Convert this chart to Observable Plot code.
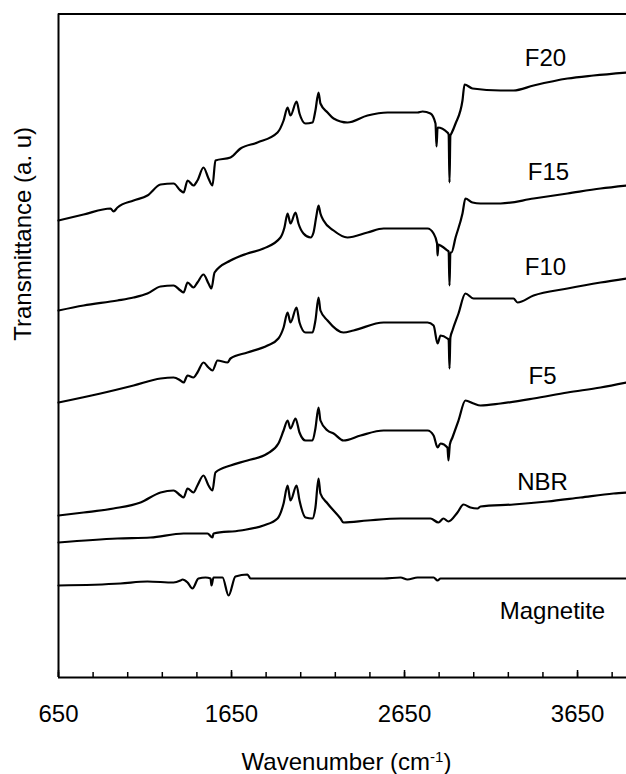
<!DOCTYPE html>
<html>
<head>
<meta charset="utf-8">
<script src="https://cdn.jsdelivr.net/npm/d3@7"></script>
<script src="https://cdn.jsdelivr.net/npm/@observablehq/plot@0.6"></script>
<style>
  html, body { margin: 0; padding: 0; background: #fff; }
  #chart svg { display: block; }
</style>
</head>
<body>
<div id="chart"></div>
<script>
// ---- Data (wavenumber in cm^-1, transmittance in arbitrary units, curves offset) ----
const seriesNames = ["F20", "F15", "F10", "F5", "NBR", "Magnetite"];

const f20Wn = [650, 795, 951, 968, 991, 1084, 1164, 1240, 1315, 1355, 1373, 1396, 1430, 1453, 1488, 1517, 1540, 1557, 1644, 1702, 1800, 1916, 1951, 1974, 1991, 2026, 2043, 2078, 2118, 2135, 2153, 2164, 2205, 2240, 2320, 2436, 2552, 2725, 2754, 2800, 2829, 2835, 2841, 2898, 2905, 2910, 2915, 2921, 2945, 2985, 2997, 3043, 3205, 3280, 3396, 3592, 3742, 3933];
const f20T  = [45.7, 46.3, 46.9, 46.6, 47.0, 47.7, 48.2, 49.3, 49.4, 48.7, 48.5, 49.7, 49.2, 49.7, 51.0, 49.9, 49.2, 51.7, 52.0, 52.9, 53.5, 54.5, 55.7, 57.0, 56.2, 57.6, 56.4, 55.4, 55.5, 56.7, 58.5, 57.4, 56.5, 55.9, 55.5, 56.2, 56.5, 56.5, 56.6, 56.4, 55.4, 53.1, 55.0, 54.5, 54.3, 49.5, 54.2, 54.4, 55.4, 57.7, 59.3, 58.9, 58.7, 58.7, 59.2, 59.9, 60.2, 60.5];

const f15Wn = [650, 795, 991, 1084, 1164, 1240, 1315, 1355, 1373, 1396, 1430, 1453, 1488, 1517, 1534, 1552, 1644, 1742, 1835, 1933, 1956, 1974, 1991, 2020, 2037, 2066, 2107, 2124, 2141, 2153, 2164, 2182, 2240, 2320, 2436, 2529, 2783, 2818, 2838, 2841, 2846, 2858, 2898, 2905, 2910, 2915, 2921, 2945, 2985, 3002, 3043, 3089, 3205, 3396, 3592, 3783, 3933];
const f15T  = [36.7, 37.2, 37.7, 38.0, 38.4, 39.1, 39.2, 38.7, 38.5, 39.5, 39.0, 39.5, 40.3, 39.4, 38.9, 40.5, 41.7, 42.4, 42.9, 44.0, 45.0, 46.4, 45.4, 46.5, 45.4, 44.4, 44.0, 44.5, 46.2, 47.2, 46.4, 45.7, 44.7, 44.0, 44.5, 44.9, 44.9, 44.4, 43.4, 42.2, 43.3, 43.2, 42.7, 42.6, 39.2, 42.5, 42.5, 44.0, 46.4, 47.9, 47.5, 47.4, 47.4, 47.9, 48.4, 48.9, 49.2];

const f10Wn = [650, 893, 1084, 1240, 1315, 1355, 1373, 1396, 1430, 1453, 1488, 1517, 1540, 1569, 1627, 1644, 1742, 1858, 1921, 1951, 1974, 1991, 2026, 2043, 2078, 2118, 2135, 2153, 2164, 2205, 2297, 2355, 2529, 2783, 2818, 2841, 2858, 2898, 2905, 2910, 2915, 2927, 2962, 3002, 3049, 3280, 3303, 3396, 3592, 3783, 3933];
const f10T  = [27.5, 28.4, 29.2, 29.9, 30.0, 29.7, 29.5, 30.2, 30.0, 30.5, 31.5, 31.0, 30.7, 31.7, 31.5, 31.9, 32.5, 33.2, 33.9, 35.0, 36.5, 35.5, 37.0, 35.5, 34.5, 34.5, 35.7, 38.0, 36.7, 35.7, 34.5, 34.7, 35.5, 35.5, 35.2, 33.4, 34.2, 33.9, 33.8, 30.9, 34.0, 34.7, 36.4, 38.4, 37.9, 37.9, 37.5, 38.2, 38.9, 39.5, 39.9];

const f5Wn = [650, 795, 968, 1124, 1240, 1315, 1355, 1373, 1396, 1430, 1453, 1488, 1517, 1540, 1557, 1644, 1742, 1858, 1921, 1951, 1974, 1991, 2020, 2043, 2078, 2118, 2135, 2153, 2164, 2205, 2240, 2297, 2396, 2529, 2783, 2818, 2841, 2858, 2898, 2904, 2912, 2927, 2962, 3002, 3049, 3089, 3205, 3396, 3592, 3783, 3933];
const f5T  = [16.2, 16.5, 16.9, 17.5, 18.5, 18.7, 18.2, 18.0, 18.9, 18.5, 19.2, 20.2, 19.2, 18.7, 20.5, 21.2, 21.7, 22.4, 23.4, 24.7, 25.7, 24.9, 25.9, 24.5, 23.7, 23.7, 24.9, 27.0, 25.7, 24.7, 24.4, 23.7, 24.2, 24.7, 24.7, 24.2, 23.0, 23.4, 23.0, 21.7, 23.3, 24.0, 25.7, 27.7, 27.4, 27.2, 27.4, 27.9, 28.5, 29.0, 29.5];

const nbrWn = [650, 991, 1182, 1373, 1511, 1540, 1546, 1702, 1835, 1916, 1951, 1974, 1991, 2026, 2043, 2078, 2118, 2135, 2153, 2164, 2205, 2280, 2297, 2436, 2627, 2800, 2846, 2875, 2904, 2956, 2991, 3031, 3072, 3089, 3280, 3476, 3667, 3858, 3933];
const nbrT  = [13.5, 13.9, 14.0, 14.4, 14.4, 14.0, 14.4, 14.7, 15.2, 15.9, 17.4, 19.2, 17.7, 19.2, 17.7, 16.0, 15.9, 17.0, 19.9, 18.4, 17.4, 15.9, 15.5, 15.7, 15.9, 15.9, 15.5, 15.9, 15.6, 16.5, 17.3, 17.0, 16.9, 17.1, 17.3, 17.6, 18.0, 18.4, 18.5];

const magWn = [650, 1008, 1164, 1315, 1355, 1367, 1396, 1424, 1459, 1500, 1529, 1534, 1546, 1598, 1633, 1673, 1742, 1760, 2529, 2627, 2667, 2725, 2818, 2841, 2858, 3933];
const magT  = [9.2, 9.4, 9.6, 9.5, 9.7, 9.8, 9.5, 8.9, 9.9, 10.0, 9.9, 9.2, 10.0, 10.0, 8.2, 10.1, 10.3, 9.9, 9.9, 10.0, 9.8, 10.0, 10.0, 9.7, 9.9, 9.9];

const seriesWn = [f20Wn, f15Wn, f10Wn, f5Wn, nbrWn, magWn];
const seriesT  = [f20T, f15T, f10T, f5T, nbrT, magT];

// curve labels
const labelNames = ["F20", "F15", "F10", "F5", "NBR", "Magnetite"];
const labelWn    = [3465, 3482, 3465, 3448, 3448, 3505];
const labelT     = [61.9, 50.5, 41.0, 30.1, 19.5, 6.6];

// axes
const majorTicks = [650, 1650, 2650, 3650];
const minorTicks = [650, 850, 1050, 1250, 1450, 1650, 1850, 2050, 2250, 2450, 2650, 2850, 3050, 3250, 3450, 3650, 3850];
const xDomain = [650, 3933];
const yDomain = [0, 66.35];
const xTitle = "Wavenumber (cm-1)";
const yTitle = "Transmittance (a. u)";

// ---- Build table ----
const rows = [];
seriesNames.forEach((name, i) => {
  seriesWn[i].forEach((w, j) => rows.push({series: name, wn: w, t: seriesT[i][j]}));
});
const labels = labelNames.map((n, i) => ({name: n, wn: labelWn[i], t: labelT[i]}));

const font = "'Liberation Sans', Arial, Helvetica, sans-serif";

const chart = Plot.plot({
  width: 626,
  height: 774,
  marginLeft: 58,
  marginRight: 0,
  marginTop: 13.5,
  marginBottom: 97,
  style: {fontFamily: font, background: "#fff", color: "#000"},
  x: {domain: xDomain, axis: null},
  y: {domain: yDomain, axis: null},
  marks: [
    Plot.ruleX([xDomain[0]], {stroke: "#000", strokeWidth: 2}),
    Plot.ruleY([yDomain[0]], {stroke: "#000", strokeWidth: 2}),
    Plot.ruleY([yDomain[1]], {stroke: "#000", strokeWidth: 2}),
    Plot.axisX({ticks: minorTicks, tickSize: 5, dy: -5, tickFormat: () => "", label: null, strokeWidth: 1.5}),
    Plot.axisX({ticks: majorTicks, tickSize: 7, dy: -7, tickFormat: () => "", label: null, strokeWidth: 1.5}),
    Plot.axisX({ticks: majorTicks, tickSize: 0, tickPadding: 27, fontSize: 24, tickFormat: d => String(d), label: null}),
    Plot.line(rows, {x: "wn", y: "t", z: "series", stroke: "#000", strokeWidth: 2.2, strokeLinejoin: "round", curve: "monotone-x"}),
    Plot.text(labels, {x: "wn", y: "t", text: "name", fontSize: 24, textAnchor: "middle", lineAnchor: "middle", fill: "#000"}),
    Plot.text([xTitle], {text: d => d, frameAnchor: "bottom", dy: 92, dx: 4, lineAnchor: "bottom", fontSize: 24, fill: "#000"}),
    Plot.text([yTitle], {text: d => d, frameAnchor: "left", rotate: -90, dx: -35, dy: -5, lineAnchor: "middle", fontSize: 24, fill: "#000"})
  ]
});

// superscript for cm^-1
d3.select(chart).selectAll("text").filter(function() { return this.textContent === xTitle; })
  .each(function() {
    const t = d3.select(this);
    t.text("");
    t.append("tspan").text("Wavenumber (cm");
    t.append("tspan").attr("baseline-shift", "super").attr("font-size", 15).text("-1");
    t.append("tspan").text(")");
  });

document.getElementById("chart").appendChild(chart);
</script>
</body>
</html>
